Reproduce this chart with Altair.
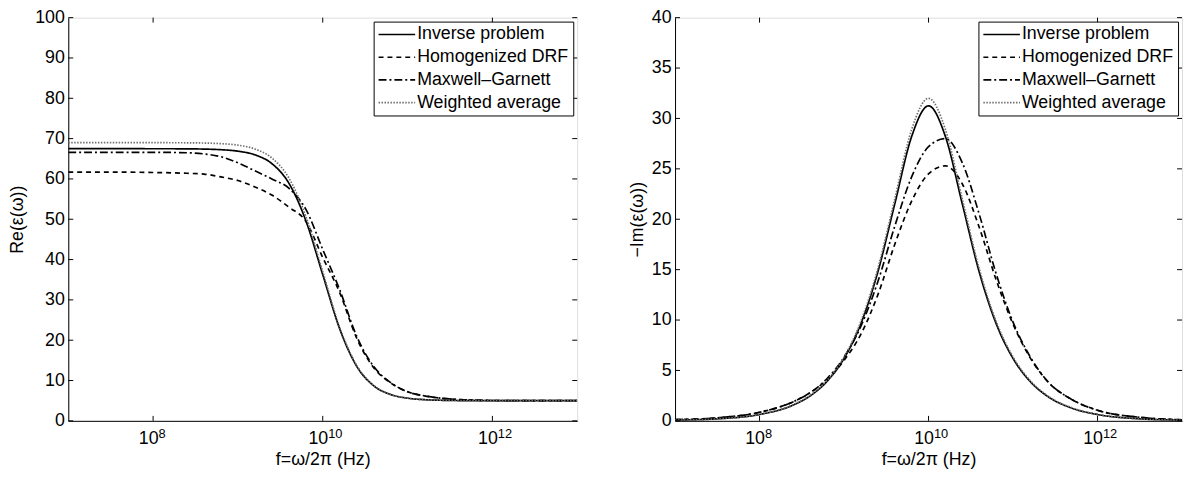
import altair as alt
import pandas as pd

# ---- data ----
log_f = [7.0, 7.5, 8.0, 8.4, 8.6, 8.8, 9.0, 9.2, 9.4, 9.6, 9.8, 10.0, 10.2,
         10.4, 10.6, 10.8, 11.0, 11.2, 11.4, 11.7, 12.0, 12.5, 13.0]

series = ["Inverse problem", "Homogenized DRF", "Maxwell\u2013Garnett", "Weighted average"]

re_inverse = [67.5, 67.5, 67.49, 67.46, 67.4, 67.25, 66.88, 65.98, 63.8, 58.96, 49.7, 36.25, 22.8,
              13.55, 8.71, 6.53, 5.62, 5.25, 5.1, 5.02, 5.0, 5.0, 5.0]
re_drf = [61.7, 61.7, 61.6, 61.4, 61.2, 60.5, 59.6, 58.0, 56.0, 53.0, 49.5, 40.5, 31.8,
          20.5, 13.2, 9.4, 7.2, 6.2, 5.6, 5.2, 5.05, 5.0, 5.0]
re_mg = [66.6, 66.6, 66.6, 66.5, 66.2, 65.5, 64.0, 62.0, 60.0, 57.7, 52.5, 42.5, 32.5,
         21.0, 13.5, 9.5, 7.2, 6.2, 5.6, 5.2, 5.05, 5.0, 5.0]
re_wavg = [69.0, 69.0, 68.99, 68.96, 68.9, 68.75, 68.37, 67.43, 65.2, 60.26, 50.78, 37.0, 23.2,
           13.76, 8.8, 6.57, 5.63, 5.25, 5.1, 5.03, 5.0, 5.0, 5.0]

im_inverse = [0.06, 0.2, 0.63, 1.57, 2.48, 3.93, 6.19, 9.65, 14.76, 21.5, 28.2, 31.25, 28.2,
              21.5, 14.76, 9.65, 6.19, 3.93, 2.48, 1.25, 0.63, 0.2, 0.06]
im_drf = [0.12, 0.3, 0.85, 1.9, 2.8, 4.1, 6.0, 8.6, 12.5, 17.5, 21.8, 24.5, 25.3,
          23.5, 19.2, 14.0, 9.6, 6.3, 4.0, 2.1, 1.05, 0.35, 0.11]
im_mg = [0.12, 0.3, 0.85, 1.9, 2.8, 4.2, 6.3, 9.4, 13.8, 19.3, 24.2, 27.2, 28.0,
         25.6, 20.5, 14.6, 9.8, 6.4, 4.0, 2.1, 1.05, 0.35, 0.11]
im_wavg = [0.06, 0.2, 0.64, 1.61, 2.54, 4.02, 6.34, 9.88, 15.1, 22.0, 28.9, 32.0, 28.9,
           22.0, 15.1, 9.88, 6.34, 4.02, 2.54, 1.28, 0.64, 0.2, 0.06]

x_tick_values = [1e8, 1e10, 1e12]
x_tick_exponents = ["8", "10", "12"]
re_tick_values = [0, 10, 20, 30, 40, 50, 60, 70, 80, 90, 100]
im_tick_values = [0, 5, 10, 15, 20, 25, 30, 35, 40]

FONT = "Liberation Sans"
HEIGHT = 408


def long_df(vals_list):
    rows = []
    for name, vals in zip(series, vals_list):
        for e, v in zip(log_f, vals):
            rows.append({"f": 10 ** e, "v": v, "s": name})
    return pd.DataFrame(rows)


x_scale = alt.Scale(type="log", domain=[1e7, 1e13], nice=False)
color_scale = alt.Scale(domain=series, range=["black", "black", "black", "#6e6e6e"])
dash_scale = alt.Scale(domain=series, range=[[1, 0], [5, 4], [8, 3, 2, 3], [1.5, 1.5]])

x_axis = alt.Axis(
    values=x_tick_values, labelExpr="'10'", labelOffset=-5,
    title="f=\u03c9/2\u03c0 (Hz)", ticks=False, tickSize=0, grid=False,
    labelPadding=9, titlePadding=3,
    labelFont=FONT, titleFont=FONT, labelFontSize=18, titleFontSize=18,
    titleFontWeight="normal", labelColor="black", titleColor="black",
    domainColor="black", domainWidth=1,
)


def y_axis(title, values, title_pad):
    return alt.Axis(
        values=values, title=title, ticks=False, tickSize=0, grid=False,
        labelPadding=4, titlePadding=title_pad,
        labelFont=FONT, titleFont=FONT, labelFontSize=18, titleFontSize=18,
        titleFontWeight="normal", labelColor="black", titleColor="black",
        domainColor="black", domainWidth=1,
    )


legend = alt.Legend(
    title=None, orient="top-right", offset=4, symbolType="stroke", symbolSize=1369,
    symbolStrokeWidth=1.6, labelFontSize=18, labelFont=FONT, labelColor="black",
    strokeColor="black", fillColor="white", padding=4, rowPadding=5, labelOffset=1,
    clipHeight=18, cornerRadius=0,
)


def panel(vals_list, ytitle, ydomain, yvalues, width, title_pad):
    df = long_df(vals_list)
    y_scale = alt.Scale(domain=ydomain, nice=False)
    ya = y_axis(ytitle, yvalues, title_pad)
    lines = alt.Chart(df).mark_line(strokeWidth=1.7, clip=True, interpolate="monotone").encode(
        x=alt.X("f:Q", scale=x_scale, axis=x_axis),
        y=alt.Y("v:Q", scale=y_scale, axis=ya),
        color=alt.Color("s:N", scale=color_scale, legend=legend),
        strokeDash=alt.StrokeDash("s:N", scale=dash_scale, legend=legend),
    )
    xt = pd.DataFrame({"f": x_tick_values, "e": x_tick_exponents})
    yt = pd.DataFrame({"v": yvalues})
    xb = alt.Chart(xt).mark_rule(color="black", strokeWidth=1).encode(
        x=alt.X("f:Q", scale=x_scale, axis=x_axis), y=alt.value(HEIGHT), y2=alt.value(HEIGHT - 5))
    xtp = alt.Chart(xt).mark_rule(color="black", strokeWidth=1).encode(
        x=alt.X("f:Q", scale=x_scale, axis=x_axis), y=alt.value(0), y2=alt.value(5))
    xexp = alt.Chart(xt).mark_text(
        align="left", baseline="alphabetic", dx=5.5, font=FONT, fontSize=13, color="black"
    ).encode(
        x=alt.X("f:Q", scale=x_scale, axis=x_axis), y=alt.value(HEIGHT + 17), text="e:N")
    yl = alt.Chart(yt).mark_rule(color="black", strokeWidth=1).encode(
        y=alt.Y("v:Q", scale=y_scale, axis=ya), x=alt.value(0), x2=alt.value(5))
    yr = alt.Chart(yt).mark_rule(color="black", strokeWidth=1).encode(
        y=alt.Y("v:Q", scale=y_scale, axis=ya), x=alt.value(width - 5), x2=alt.value(width))
    return alt.layer(lines, xb, xtp, xexp, yl, yr).properties(width=width, height=HEIGHT)


left = panel([re_inverse, re_drf, re_mg, re_wavg], "Re(\u03b5(\u03c9))", [0, 100],
             re_tick_values, 515, 8)
right = panel([im_inverse, im_drf, im_mg, im_wavg], "\u2212Im(\u03b5(\u03c9))", [0, 40],
              im_tick_values, 513, 5)

chart = alt.hconcat(left, right, spacing=50).resolve_scale(
    color="independent", strokeDash="independent"
).resolve_legend(
    color="independent", strokeDash="independent"
).properties(
    padding={"top": -3, "left": 0, "right": 0, "bottom": 0}
).configure_view(
    stroke="black", strokeWidth=1
).configure(background="white")

chart.save("out.html", embed_options={"renderer": "svg", "actions": False})
